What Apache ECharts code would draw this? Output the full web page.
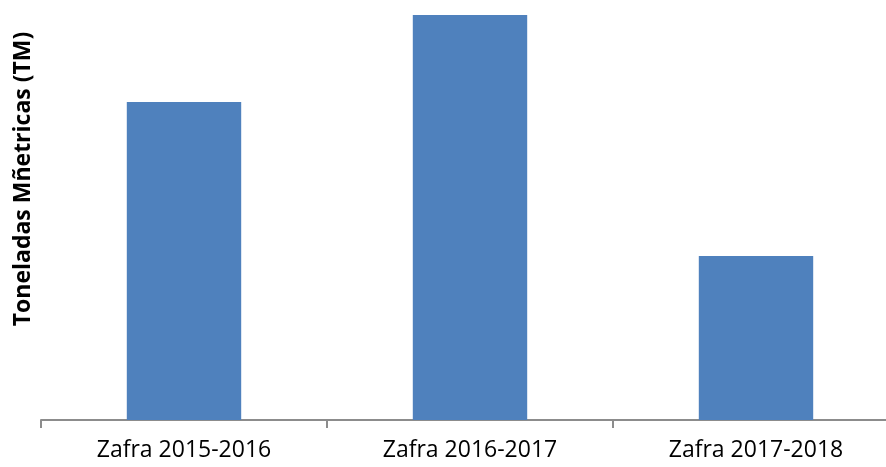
<!DOCTYPE html>
<html>
<head>
<meta charset="utf-8">
<script src="https://cdn.jsdelivr.net/npm/echarts@6/dist/echarts.min.js"></script>
<style>
html, body { margin: 0; padding: 0; background: #fff; }
#main { width: 886px; height: 467px; }
</style>
</head>
<body>
<div id="main"></div>
<script>
// categories and values (relative, no scale shown on the chart)
var categories = ["Zafra 2015-2016", "Zafra 2016-2017", "Zafra 2017-2018"];
var values = [318, 405, 164];
var yName = "Toneladas Mñetricas (TM)";

var myChart = echarts.init(document.getElementById("main"));

var option = {
	animation: false,
	grid: { left: 41, top: 15, width: 858, height: 405, containLabel: false, outerBoundsMode: "none" },
	graphic: [{
		type: "text",
		x: 23,
		y: 179,
		rotation: Math.PI / 2,
		style: {
			text: yName,
			font: "bold 23px 'Open Sans', 'Noto Sans', sans-serif",
			fill: "#000",
			align: "center",
			verticalAlign: "middle"
		}
	}],
	xAxis: {
		type: "category",
		data: categories,
		axisLine: { lineStyle: { color: "#8c8c8c", width: 2 } },
		axisTick: { show: true, length: 8, lineStyle: { color: "#8c8c8c", width: 2 } },
		axisLabel: {
			color: "#000",
			fontSize: 23,
			fontFamily: "'Open Sans', 'Noto Sans', sans-serif",
			margin: 19
		}
	},
	yAxis: {
		type: "value",
		min: 0,
		max: 405,
		show: false,
		splitLine: { show: false }
	},
	series: [{
		type: "bar",
		data: values,
		barWidth: "40%",
		itemStyle: { color: "#4F81BD" }
	}]
};
myChart.setOption(option);
</script>
</body>
</html>
